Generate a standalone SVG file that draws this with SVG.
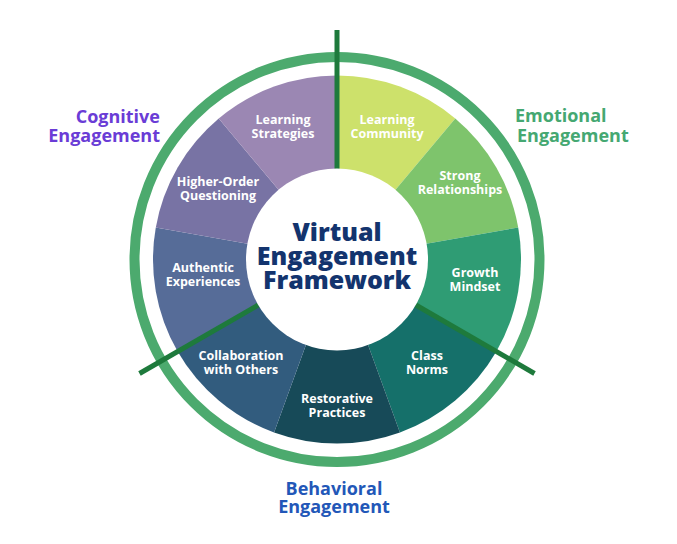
<svg xmlns="http://www.w3.org/2000/svg" width="677" height="544" viewBox="0 0 677 544">
<style>
.seg{stroke:none}
.lbl{font-family:"Open Sans","Liberation Sans",sans-serif;font-weight:700;font-size:12.5px;fill:#ffffff;text-anchor:middle}
.title{font-family:"Open Sans","Liberation Sans",sans-serif;font-weight:800;font-size:25px;fill:#13346e;text-anchor:middle}
.outer{font-family:"Open Sans","Liberation Sans",sans-serif;font-weight:700;font-size:18px}
.div{stroke:#1e7a3c;stroke-width:5;stroke-linecap:butt}
</style>
<rect width="677" height="544" fill="#ffffff"/>
<circle cx="337" cy="259.5" r="202.5" fill="none" stroke="#4caa6e" stroke-width="10"/>
<g id="learning-community"><path class="seg" fill="#cde16b" d="M337 259.5 L337 75.5 A184 184 0 0 1 455.27 118.55 Z"/><text class="lbl" x="387" y="124">Learning<tspan x="387" dy="14">Community</tspan></text></g>
<g id="strong-relationships"><path class="seg" fill="#7ec46c" d="M337 259.5 L455.27 118.55 A184 184 0 0 1 518.2 227.55 Z"/><text class="lbl" x="460" y="180">Strong<tspan x="460" dy="14">Relationships</tspan></text></g>
<g id="growth-mindset"><path class="seg" fill="#2f9c74" d="M337 259.5 L518.2 227.55 A184 184 0 0 1 496.35 351.5 Z"/><text class="lbl" x="475" y="277">Growth<tspan x="475" dy="14">Mindset</tspan></text></g>
<g id="class-norms"><path class="seg" fill="#15706a" d="M337 259.5 L496.35 351.5 A184 184 0 0 1 399.93 432.4 Z"/><text class="lbl" x="427" y="360">Class<tspan x="427" dy="14">Norms</tspan></text></g>
<g id="restorative-practices"><path class="seg" fill="#174a58" d="M337 259.5 L399.93 432.4 A184 184 0 0 1 274.07 432.4 Z"/><text class="lbl" x="337" y="403">Restorative<tspan x="337" dy="14">Practices</tspan></text></g>
<g id="collaboration"><path class="seg" fill="#325c7e" d="M337 259.5 L274.07 432.4 A184 184 0 0 1 177.65 351.5 Z"/><text class="lbl" x="241" y="360">Collaboration<tspan x="241" dy="14">with Others</tspan></text></g>
<g id="authentic-experiences"><path class="seg" fill="#566c98" d="M337 259.5 L177.65 351.5 A184 184 0 0 1 155.8 227.55 Z"/><text class="lbl" x="203" y="272">Authentic<tspan x="203" dy="14">Experiences</tspan></text></g>
<g id="higher-order-questioning"><path class="seg" fill="#7873a4" d="M337 259.5 L155.8 227.55 A184 184 0 0 1 218.73 118.55 Z"/><text class="lbl" x="218" y="186">Higher-Order<tspan x="218" dy="14">Questioning</tspan></text></g>
<g id="learning-strategies"><path class="seg" fill="#9b87b3" d="M337 259.5 L218.73 118.55 A184 184 0 0 1 337 75.5 Z"/><text class="lbl" x="283" y="124">Learning<tspan x="283" dy="14">Strategies</tspan></text></g>
<g id="connectors">
<line class="div" x1="337" y1="30" x2="337" y2="170"/>
<line class="div" x1="415.8" y1="305" x2="534.5" y2="373.5"/>
<line class="div" x1="258.2" y1="305" x2="139.5" y2="373.5"/>
</g>
<g id="center"><circle cx="337" cy="259.5" r="91" fill="#ffffff"/>
<text class="title" x="337" y="241">Virtual<tspan x="337" dy="24">Engagement</tspan><tspan x="337" dy="24">Framework</tspan></text></g>
<g id="cognitive"><text class="outer" fill="#6a3cd6" text-anchor="end" x="160" y="123">Cognitive<tspan x="160" dy="19">Engagement</tspan></text></g>
<g id="emotional"><text class="outer" fill="#45a872" x="515" y="122">Emotional<tspan x="517" dy="20">Engagement</tspan></text></g>
<g id="behavioral"><text class="outer" fill="#2257b8" text-anchor="middle" x="334" y="495">Behavioral<tspan x="334" dy="18">Engagement</tspan></text></g>
</svg>
